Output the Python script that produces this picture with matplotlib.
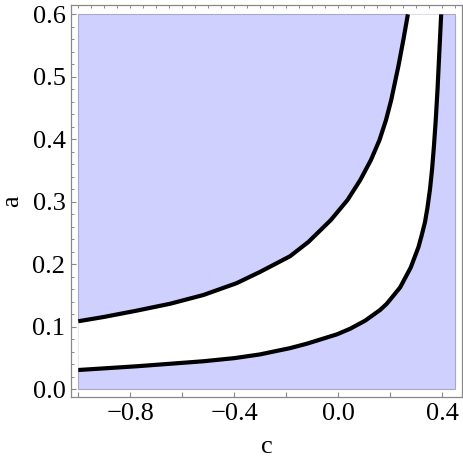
import matplotlib
matplotlib.use("Agg")
import matplotlib.pyplot as plt
from matplotlib.ticker import FixedLocator, MultipleLocator, FuncFormatter
from matplotlib.patches import Rectangle, Polygon

# Upper boundary curve (c, a)
upper_c = [-1.0, -0.9, -0.775, -0.647, -0.519, -0.391, -0.301, -0.186, -0.115,
           -0.029, 0.035, 0.084, 0.125, 0.158, 0.183, 0.203, 0.230, 0.250, 0.267]
upper_a = [0.109, 0.116, 0.126, 0.137, 0.151, 0.170, 0.188, 0.213, 0.236,
           0.271, 0.303, 0.335, 0.367, 0.399, 0.431, 0.463, 0.516, 0.560, 0.600]

# Lower boundary curve (c, a)
lower_c = [-1.0, -0.775, -0.519, -0.40, -0.301, -0.186, -0.122, -0.006, 0.045,
           0.103, 0.160, 0.186, 0.237, 0.278, 0.308, 0.321, 0.333, 0.342, 0.352,
           0.360, 0.367, 0.374, 0.381, 0.388, 0.395]
lower_a = [0.031, 0.037, 0.045, 0.050, 0.056, 0.066, 0.073, 0.088, 0.097,
           0.110, 0.127, 0.137, 0.163, 0.195, 0.228, 0.248, 0.268, 0.290, 0.320,
           0.352, 0.388, 0.430, 0.480, 0.540, 0.600]

# Plot region
c_range = [-1.0, 0.45]
a_range = [0.0, 0.6]

x_ticks = [-1.0, -0.8, -0.6, -0.4, -0.2, 0.0, 0.2, 0.4]
x_labels = {-0.8: "\u22120.8", -0.4: "\u22120.4", 0.0: "0.0", 0.4: "0.4"}
y_ticks = [0.0, 0.1, 0.2, 0.3, 0.4, 0.5, 0.6]

plt.rcParams['font.family'] = ['Liberation Serif', 'DejaVu Serif']

fig = plt.figure(figsize=(4.63, 4.61), dpi=100)
ax = fig.add_axes([0.1533, 0.1388, 0.8445, 0.8504])

fill_col = '#d0d0ff'
ax.add_patch(Rectangle((c_range[0], a_range[0]), c_range[1] - c_range[0],
                       a_range[1] - a_range[0], facecolor=fill_col,
                       edgecolor='#a8a8c8', lw=0.8, zorder=1))
band = list(zip(upper_c, upper_a)) + list(zip(lower_c, lower_a))[::-1]
ax.add_patch(Polygon(band, closed=True, facecolor='white', edgecolor='none', zorder=2))

ax.plot(upper_c, upper_a, color='black', lw=3.0, solid_capstyle='butt',
        solid_joinstyle='round', zorder=3)
ax.plot(lower_c, lower_a, color='black', lw=3.0, solid_capstyle='butt',
        solid_joinstyle='round', zorder=3)

ax.set_xlim(-1.028, 0.475)
ax.set_ylim(-0.0122, 0.615)

ax.xaxis.set_major_locator(FixedLocator(x_ticks))
ax.xaxis.set_major_formatter(FuncFormatter(
    lambda v, p: next((s for k, s in x_labels.items() if abs(k - v) < 1e-9), "")))
ax.yaxis.set_major_locator(FixedLocator(y_ticks))
ax.yaxis.set_major_formatter(FuncFormatter(lambda v, p: f"{v:.1f}"))
ax.yaxis.set_minor_locator(MultipleLocator(0.02))

for s in ax.spines.values():
    s.set_color('#888888')
    s.set_linewidth(0.9)

ax.tick_params(axis='both', which='major', direction='in', length=3.4, width=0.8,
               color='#888888', labelsize=19, pad=4)
ax.tick_params(axis='y', which='minor', direction='in', length=2.0, width=0.7,
               color='#888888')
ax.tick_params(axis='x', which='both', top=False)
ax.tick_params(axis='y', which='both', right=False)

# top ticks every 0.05
sec = ax.secondary_xaxis('top')
sec.xaxis.set_major_locator(MultipleLocator(0.05))
sec.tick_params(direction='in', length=2.0, width=0.7, color='#888888', labeltop=False)
sec.spines['top'].set_visible(False)

ax.set_xlabel('c', fontsize=19, labelpad=8)
ax.set_ylabel('a', fontsize=19, labelpad=7, rotation=90)

fig.savefig('out.png', dpi=100)
